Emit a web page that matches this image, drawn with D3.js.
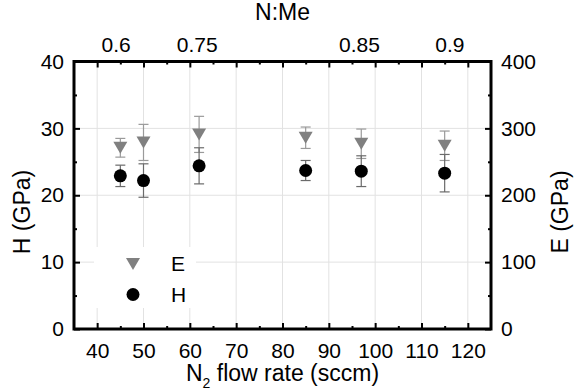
<!DOCTYPE html>
<html>
<head>
<meta charset="utf-8">
<script src="https://cdn.jsdelivr.net/npm/d3@7"></script>
<style>
  body { margin: 0; background: #fff; }
  svg text { font-family: "Liberation Sans", Arial, sans-serif; fill: #000; }
</style>
</head>
<body>
<div id="chart"></div>
<script>
// data
const flowRate = [45, 50, 62, 85, 97, 115];
const hardness = [22.9, 22.2, 24.4, 23.7, 23.6, 23.3];
const hardnessErr = [1.6, 2.5, 2.7, 1.5, 2.3, 2.8];
const modulus = [271, 279, 291, 286, 277, 274];
const modulusErr = [14, 27, 27, 16, 22, 22];

const topLabelPos = [44, 61.5, 96.5, 116];
const topLabels = ['0.6', '0.75', '0.85', '0.9'];
const xTicks = [40, 50, 60, 70, 80, 90, 100, 110, 120];
const hTicks = [0, 10, 20, 30, 40];
const eTicks = [0, 100, 200, 300, 400];

const W = 574, H = 392;
const margin = { top: 61.5, right: 83, bottom: 63, left: 74 };
const width = W - margin.left - margin.right;
const height = H - margin.top - margin.bottom;

const svg = d3.select('#chart').append('svg')
  .attr('width', W)
  .attr('height', H);

const g = svg.append('g')
  .attr('transform', `translate(${margin.left},${margin.top})`);

const x = d3.scaleLinear().domain([35, 125]).range([0, width]);
const yH = d3.scaleLinear().domain([0, 40]).range([height, 0]);
const yE = d3.scaleLinear().domain([0, 400]).range([height, 0]);

// grid
g.append('g').selectAll('line.v')
  .data(xTicks).join('line')
  .attr('x1', d => x(d)).attr('x2', d => x(d))
  .attr('y1', 0).attr('y2', height)
  .attr('stroke', '#e2e2e2').attr('stroke-width', 1);
g.append('g').selectAll('line.h')
  .data([10, 20, 30]).join('line')
  .attr('x1', 0).attr('x2', width)
  .attr('y1', d => yH(d)).attr('y2', d => yH(d))
  .attr('stroke', '#e2e2e2').attr('stroke-width', 1);

// legend background hides the grid
g.append('rect')
  .attr('x', 20).attr('y', 185.5)
  .attr('width', 102).attr('height', 61)
  .attr('fill', '#fff');

const fontTick = '21px';
const fontTitle = '23px';
const minorX = d3.range(45, 120, 10);
const minorY = [5, 15, 25, 35];

function styleAxis(sel) {
  sel.select('.domain').remove();
  sel.selectAll('.tick line').attr('stroke', '#000').attr('stroke-width', 2);
  sel.selectAll('.tick text').style('font-size', fontTick);
}

// bottom axis
g.append('g')
  .attr('transform', `translate(0,${height})`)
  .call(d3.axisBottom(x).tickValues(xTicks).tickSize(-6).tickPadding(14))
  .call(styleAxis);
g.append('g')
  .attr('transform', `translate(0,${height})`)
  .call(d3.axisBottom(x).tickValues(minorX).tickSize(-3).tickFormat(''))
  .call(styleAxis);

// top axis: ticks only, plus N:Me labels
g.append('g')
  .call(d3.axisTop(x).tickValues(xTicks).tickSize(-6).tickFormat(''))
  .call(styleAxis);
g.append('g')
  .call(d3.axisTop(x).tickValues(minorX).tickSize(-3).tickFormat(''))
  .call(styleAxis);
g.append('g')
  .call(d3.axisTop(x).tickValues(topLabelPos).tickSize(0).tickPadding(10)
    .tickFormat((d, i) => topLabels[i]))
  .call(styleAxis);

// left axis
g.append('g')
  .call(d3.axisLeft(yH).tickValues(hTicks).tickSize(-6).tickPadding(10))
  .call(styleAxis);
g.append('g')
  .call(d3.axisLeft(yH).tickValues(minorY).tickSize(-3).tickFormat(''))
  .call(styleAxis);

// right axis
g.append('g')
  .attr('transform', `translate(${width},0)`)
  .call(d3.axisRight(yE).tickValues(eTicks).tickSize(-6).tickPadding(10))
  .call(styleAxis);
g.append('g')
  .attr('transform', `translate(${width},0)`)
  .call(d3.axisRight(yE).tickValues(minorY.map(d => d * 10)).tickSize(-3).tickFormat(''))
  .call(styleAxis);

// frame
g.append('rect')
  .attr('width', width).attr('height', height)
  .attr('fill', 'none').attr('stroke', '#000').attr('stroke-width', 3);

// error bars
function errorBars(vals, errs, y, color) {
  const eb = g.append('g').attr('stroke', color).attr('stroke-width', 1.2);
  flowRate.forEach((f, i) => {
    const cx = x(f), y0 = y(vals[i] - errs[i]), y1 = y(vals[i] + errs[i]);
    eb.append('line').attr('x1', cx).attr('x2', cx).attr('y1', y0).attr('y2', y1);
    eb.append('line').attr('x1', cx - 5).attr('x2', cx + 5).attr('y1', y0).attr('y2', y0);
    eb.append('line').attr('x1', cx - 5).attr('x2', cx + 5).attr('y1', y1).attr('y2', y1);
  });
}
errorBars(modulus, modulusErr, yE, '#9a9a9a');
errorBars(hardness, hardnessErr, yH, '#6a6a6a');

const tri = 'M-7,-6L7,-6L0,6Z';

g.append('g').selectAll('path')
  .data(flowRate).join('path')
  .attr('d', tri)
  .attr('transform', (d, i) => `translate(${x(d)},${yE(modulus[i])})`)
  .attr('fill', '#808080');

g.append('g').selectAll('circle')
  .data(flowRate).join('circle')
  .attr('cx', d => x(d))
  .attr('cy', (d, i) => yH(hardness[i]))
  .attr('r', 6.5)
  .attr('fill', '#000');

// legend
const lg = g.append('g').attr('transform', 'translate(59,202.5)');
lg.append('path').attr('d', tri).attr('fill', '#808080');
lg.append('text').attr('x', 38).attr('y', 0).attr('dy', '0.35em')
  .style('font-size', fontTick).text('E');
lg.append('circle').attr('cx', 0).attr('cy', 30.5).attr('r', 6.5).attr('fill', '#000');
lg.append('text').attr('x', 38).attr('y', 30.5).attr('dy', '0.35em')
  .style('font-size', fontTick).text('H');

// titles
const xt = svg.append('text')
  .attr('x', margin.left + width / 2).attr('y', 381)
  .attr('text-anchor', 'middle')
  .style('font-size', fontTitle);
xt.append('tspan').text('N');
xt.append('tspan').attr('dy', 7).style('font-size', '14px').text('2');
xt.append('tspan').attr('dy', -7).text(' flow rate (sccm)');

svg.append('text')
  .attr('x', margin.left + width / 2).attr('y', 20)
  .attr('text-anchor', 'middle')
  .style('font-size', fontTitle)
  .text('N:Me');

svg.append('text')
  .attr('transform', 'translate(30,212) rotate(-90)')
  .attr('text-anchor', 'middle')
  .style('font-size', fontTitle)
  .text('H (GPa)');

svg.append('text')
  .attr('transform', 'translate(568,212) rotate(-90)')
  .attr('text-anchor', 'middle')
  .style('font-size', fontTitle)
  .text('E (GPa)');
</script>
</body>
</html>
